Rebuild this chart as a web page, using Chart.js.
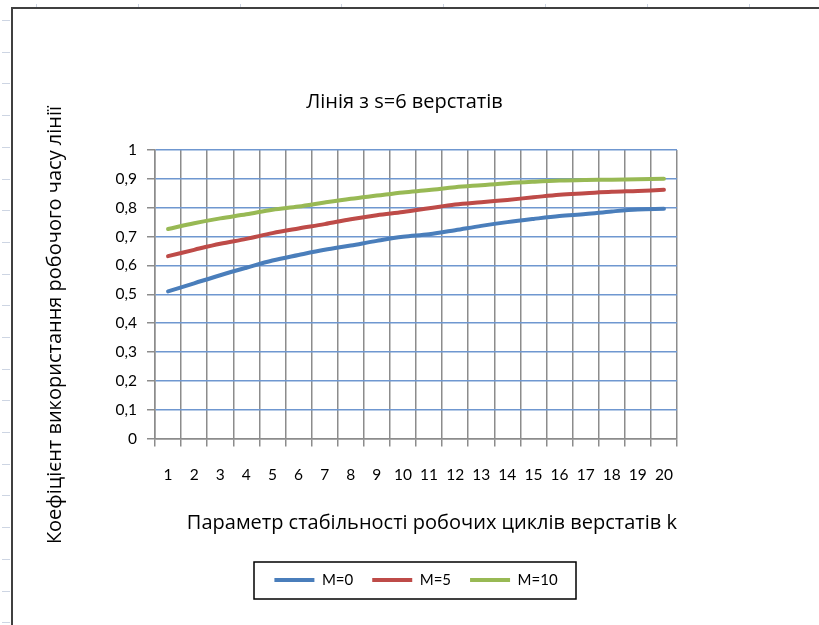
<!DOCTYPE html>
<html>
<head>
<meta charset="utf-8">
<title>Лінія з s=6 верстатів</title>
<script src="https://cdn.jsdelivr.net/npm/chart.js@4.4.1/dist/chart.umd.min.js"></script>
<style>
  html, body { margin: 0; padding: 0; background: #ffffff; }
  #wrap { width: 819px; height: 625px; position: relative; }
</style>
</head>
<body>
<div id="wrap"><canvas id="chart" width="819" height="625"></canvas></div>
<script>
// Stability parameter k of machine work cycles
const categories = ['1','2','3','4','5','6','7','8','9','10','11','12','13','14','15','16','17','18','19','20'];

// Utilisation coefficient of the line's working time
const seriesM0  = [0.510, 0.538, 0.566, 0.592, 0.617, 0.636, 0.654, 0.669, 0.685, 0.699,
                   0.708, 0.722, 0.737, 0.750, 0.761, 0.771, 0.778, 0.787, 0.794, 0.796];
const seriesM5  = [0.632, 0.654, 0.675, 0.692, 0.712, 0.728, 0.743, 0.760, 0.774, 0.785,
                   0.798, 0.811, 0.819, 0.827, 0.836, 0.845, 0.850, 0.855, 0.858, 0.862];
const seriesM10 = [0.726, 0.746, 0.763, 0.777, 0.793, 0.804, 0.818, 0.831, 0.842, 0.853,
                   0.861, 0.871, 0.878, 0.885, 0.890, 0.894, 0.896, 0.897, 0.899, 0.900];

const seriesNames = ['M=0', 'M=5', 'M=10'];
const seriesColors = ['#4a7ebb', '#be4b48', '#98b954'];

// Value axis: 0 … 1 with step 0,1
const yMin = 0, yMax = 1, yStep = 0.1;

const chartTitle = 'Лінія з s=6 верстатів';
const xTitle = 'Параметр стабільності робочих циклів верстатів k';
const yTitle = 'Коефіцієнт використання робочого часу лінії';

const GRID_BLUE = '#6f97d0';
const GRID_GRAY = '#8c8c8c';
const TITLE_FONT = '"Open Sans"';
const TICK_FONT = 'Lato';
const TITLE_SIZE = 20;
const AXIS_TITLE_SIZE = 20;

// Worksheet frame behind the chart: faint cell marks and the dark chart border
const framePlugin = {
  id: 'frame',
  beforeDraw(chart) {
    const ctx = chart.ctx;
    ctx.save();
    ctx.fillStyle = '#ffffff';
    ctx.fillRect(0, 0, chart.width, chart.height);
    ctx.strokeStyle = '#cdd5e3';
    ctx.lineWidth = 1;
    ctx.beginPath();
    for (let y = 20; y < chart.height; y += 31.7) {
      const yy = Math.round(y) + 0.5;
      ctx.moveTo(2, yy); ctx.lineTo(10, yy);
    }
    for (let x = 36; x < chart.width; x += 101.8) {
      const xx = Math.round(x) + 0.5;
      ctx.moveTo(xx, 4); ctx.lineTo(xx, 7);
    }
    ctx.stroke();
    ctx.strokeStyle = '#404040';
    ctx.lineWidth = 2;
    ctx.beginPath();
    ctx.moveTo(12, chart.height);
    ctx.lineTo(12, 8);
    ctx.lineTo(chart.width, 8);
    ctx.stroke();
    ctx.restore();
  }
};

// Vertical axis title and the framed legend box
const decorPlugin = {
  id: 'decor',
  afterDraw(chart) {
    const ctx = chart.ctx;
    ctx.save();
    ctx.fillStyle = '#000000';
    ctx.font = AXIS_TITLE_SIZE + 'px ' + TITLE_FONT;
    ctx.textAlign = 'center';
    ctx.textBaseline = 'middle';
    ctx.translate(55, 325);
    ctx.rotate(-Math.PI / 2);
    ctx.fillText(yTitle, 0, 0);
    ctx.restore();

    const boxes = chart.legend && chart.legend.legendHitBoxes;
    if (boxes && boxes.length) {
      let l = Infinity, r = -Infinity, t = Infinity, b = -Infinity;
      boxes.forEach(h => {
        l = Math.min(l, h.left); r = Math.max(r, h.left + h.width);
        t = Math.min(t, h.top); b = Math.max(b, h.top + h.height);
      });
      const cy = (t + b) / 2;
      ctx.save();
      ctx.strokeStyle = '#000000';
      ctx.lineWidth = 1.5;
      ctx.strokeRect(Math.round(l - 20), Math.round(cy - 18.5), Math.round(r - l + 39), 37);
      ctx.restore();
    }
  }
};

function makeDataset(label, values, color) {
  return {
    label: label,
    data: values,
    borderColor: color,
    backgroundColor: color,
    borderWidth: 4,
    borderCapStyle: 'round',
    borderJoinStyle: 'round',
    pointRadius: 0,
    pointHoverRadius: 0,
    tension: 0.35,
    fill: false
  };
}

const titleLH = TITLE_SIZE * 1.2;

new Chart(document.getElementById('chart'), {
  type: 'line',
  data: {
    labels: categories,
    datasets: [
      makeDataset(seriesNames[0], seriesM0, seriesColors[0]),
      makeDataset(seriesNames[1], seriesM5, seriesColors[1]),
      makeDataset(seriesNames[2], seriesM10, seriesColors[2])
    ]
  },
  plugins: [framePlugin, decorPlugin],
  options: {
    responsive: false,
    animation: false,
    devicePixelRatio: 1,
    layout: { padding: { left: 0, right: 10, top: 0, bottom: 27.5 } },
    plugins: {
      tooltip: { enabled: false },
      title: {
        display: true,
        text: chartTitle,
        color: '#000000',
        font: { family: TITLE_FONT, size: TITLE_SIZE, weight: 'normal', lineHeight: 1.2 },
        padding: { top: 102 - titleLH / 2, bottom: 150 - (102 - titleLH / 2) - titleLH }
      },
      legend: {
        display: true,
        position: 'bottom',
        fullSize: false,
        labels: {
          color: '#000000',
          font: { family: TICK_FONT, size: 15 },
          usePointStyle: true,
          pointStyle: 'line',
          pointStyleWidth: 40,
          padding: 19
        }
      }
    },
    scales: {
      x: {
        type: 'category',
        offset: true,
        afterFit(scale) { scale.height = 115; },
        grid: {
          display: true,
          offset: true,
          color: GRID_GRAY,
          lineWidth: 1.5,
          tickColor: GRID_GRAY,
          tickLength: 8,
          drawTicks: true
        },
        border: { display: true, color: GRID_GRAY, width: 1.5 },
        ticks: {
          color: '#000000',
          font: { family: TICK_FONT, size: 15.5 },
          padding: 19,
          autoSkip: false,
          maxRotation: 0
        },
        title: {
          display: true,
          text: xTitle,
          align: 'end',
          color: '#000000',
          font: { family: TITLE_FONT, size: AXIS_TITLE_SIZE, lineHeight: 1.2 },
          padding: { top: 0, bottom: 553.5 - 523 - AXIS_TITLE_SIZE * 0.6 }
        }
      },
      y: {
        type: 'linear',
        position: 'left',
        min: yMin,
        max: yMax,
        afterFit(scale) { scale.width = 155; },
        grid: {
          color: ctx => (ctx.tick && ctx.tick.value === 0) ? GRID_GRAY : GRID_BLUE,
          lineWidth: 1.5,
          tickColor: GRID_GRAY,
          tickLength: 8
        },
        border: { display: true, color: GRID_GRAY, width: 1.5 },
        ticks: {
          stepSize: yStep,
          color: '#000000',
          font: { family: TICK_FONT, size: 15.5 },
          padding: 10,
          callback: v => {
            const r = Math.round(v * 10) / 10;
            return (r === 0 || r === 1) ? String(r) : r.toFixed(1).replace('.', ',');
          }
        }
      },
      yR: {
        type: 'linear',
        position: 'right',
        display: true,
        afterFit(scale) { scale.width = 132; },
        grid: { display: false, drawTicks: false },
        border: { display: false },
        ticks: { display: false }
      }
    }
  }
});
</script>
</body>
</html>
